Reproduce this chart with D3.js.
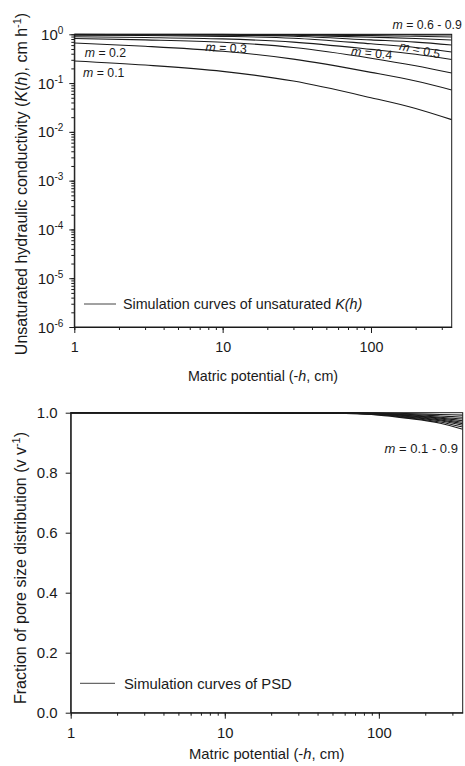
<!DOCTYPE html>
<html>
<head>
<meta charset="utf-8">
<script src="https://cdn.jsdelivr.net/npm/d3@7"></script>
<style>
  html, body { margin: 0; padding: 0; background: #fff; }
  svg { display: block; font-family: "Liberation Sans", Arial, sans-serif; }
</style>
</head>
<body>
<svg id="chart" width="465" height="766"></svg>
<script>
// ---------- data ----------
const mValues = ["0.1","0.2","0.3","0.4","0.5","0.6","0.7","0.8","0.9"];

// Top panel: unsaturated K(h), cm h-1 at matric potentials (-h, cm)
const kPotential = [1, 3, 10, 30, 100, 200, 350];
const kM01 = [0.284, 0.234, 0.174, 0.110, 0.0501, 0.0302, 0.0178];
const kM02 = [0.664, 0.570, 0.449, 0.310, 0.166, 0.110, 0.0723];
const kM03 = [0.820, 0.769, 0.686, 0.537, 0.324, 0.226, 0.161];
const kM04 = [0.893, 0.861, 0.804, 0.692, 0.490, 0.389, 0.305];
const kM05 = [0.955, 0.942, 0.908, 0.832, 0.638, 0.537, 0.434];
const kM06 = [0.982, 0.977, 0.964, 0.912, 0.767, 0.692, 0.604];
const kM07 = [0.991, 0.989, 0.982, 0.955, 0.871, 0.822, 0.764];
const kM08 = [0.995, 0.993, 0.991, 0.977, 0.938, 0.912, 0.881];
const kM09 = [0.998, 0.998, 0.995, 0.991, 0.982, 0.975, 0.966];
const kSeries = [kM01, kM02, kM03, kM04, kM05, kM06, kM07, kM08, kM09];

// Bottom panel: fraction of pore size distribution (v v-1)
const psdPotential = [1, 10, 50, 100, 150, 250, 350];
const psdM01 = [1, 1, 0.998, 0.992, 0.982, 0.965, 0.945];
const psdM02 = [1, 1, 0.998, 0.993, 0.984, 0.969, 0.952];
const psdM03 = [1, 1, 0.999, 0.994, 0.986, 0.973, 0.958];
const psdM04 = [1, 1, 0.999, 0.995, 0.988, 0.976, 0.963];
const psdM05 = [1, 1, 0.999, 0.996, 0.990, 0.979, 0.968];
const psdM06 = [1, 1, 0.999, 0.997, 0.991, 0.982, 0.973];
const psdM07 = [1, 1, 1.000, 0.997, 0.993, 0.985, 0.979];
const psdM08 = [1, 1, 1.000, 0.998, 0.995, 0.989, 0.985];
const psdM09 = [1, 1, 1.000, 0.999, 0.997, 0.994, 0.992];
const psdSeries = [psdM01, psdM02, psdM03, psdM04, psdM05, psdM06, psdM07, psdM08, psdM09];

// tick labels
const xTickValues = [1, 10, 100];
const xTickLabels = ["1", "10", "100"];
const kTickValues = [1, 0.1, 0.01, 0.001, 1e-4, 1e-5, 1e-6];
const kTickExponents = ["0", "-1", "-2", "-3", "-4", "-5", "-6"];
const psdTickValues = [0, 0.2, 0.4, 0.6, 0.8, 1.0];
const psdTickLabels = ["0.0", "0.2", "0.4", "0.6", "0.8", "1.0"];

// curve annotations (in data coordinates)
const kLabels = [
  { text: "0.1", h: 1.145, k: 0.133, rot: 0 },
  { text: "0.2", h: 1.176, k: 0.335, rot: 0 },
  { text: "0.3", h: 7.64, k: 0.455, rot: 3 },
  { text: "0.4", h: 72.9, k: 0.377, rot: 6 },
  { text: "0.5", h: 153.8, k: 0.48, rot: 12 },
  { text: "0.6 - 0.9", h: 139.6, k: 1.285, rot: 0 }
];
const psdLabel = { text: "0.1 - 0.9", h: 108.9, v: 0.866 };

// ---------- drawing ----------
const svg = d3.select("#chart");
const ink = "#1a1a1a";
const xDomain = [1, 350];

function minorLogTicks(lo, hi) {
  const t = [];
  for (let d = Math.floor(Math.log10(lo)); d <= Math.ceil(Math.log10(hi)); d++) {
    for (let i = 1; i < 10; i++) {
      const v = i * Math.pow(10, d);
      if (v >= lo - 1e-12 && v <= hi + 1e-9) t.push(v);
    }
  }
  return t;
}

function drawXAxis(g, x, yPos, fs) {
  const minor = minorLogTicks(xDomain[0], xDomain[1]);
  g.append("g").attr("transform", `translate(0,${yPos})`)
    .call(d3.axisBottom(x).tickValues(minor).tickSize(3).tickFormat(""))
    .call(a => a.select(".domain").remove())
    .call(a => a.selectAll("line").attr("stroke", ink));
  g.append("g").attr("transform", `translate(0,${yPos})`)
    .call(d3.axisBottom(x).tickValues(xTickValues).tickSize(6).tickSizeOuter(0)
      .tickFormat((d, i) => xTickLabels[i]))
    .call(a => a.select(".domain").attr("stroke", ink))
    .call(a => a.selectAll("line").attr("stroke", ink))
    .call(a => a.selectAll("text").attr("font-size", fs).attr("fill", ink)
      .attr("y", 14.5).attr("dy", "0.71em").attr("font-family", "Liberation Sans, Arial"));
}

// ===== Top panel =====
const P1 = { left: 74.3, right: 451.7, top: 34.3, bottom: 327 };
const fs1 = 14.3;
const x1 = d3.scaleLog().domain(xDomain).range([P1.left, P1.right]);
const y1 = d3.scaleLog().domain([1e-6, 1]).range([P1.bottom, P1.top]);
const g1 = svg.append("g");

g1.append("defs").append("clipPath").attr("id", "clip1")
  .append("rect").attr("x", P1.left).attr("y", P1.top - 1)
  .attr("width", P1.right - P1.left).attr("height", P1.bottom - P1.top + 1);

g1.append("rect").attr("x", P1.left).attr("y", P1.top)
  .attr("width", P1.right - P1.left).attr("height", P1.bottom - P1.top)
  .attr("fill", "none").attr("stroke", ink).attr("stroke-width", 1);

g1.append("g").attr("transform", `translate(${P1.left},0)`)
  .call(d3.axisLeft(y1).tickValues(minorLogTicks(1e-6, 1)).tickSize(3).tickFormat(""))
  .call(a => a.select(".domain").remove())
  .call(a => a.selectAll("line").attr("stroke", ink));
const yAx1 = g1.append("g").attr("transform", `translate(${P1.left},0)`)
  .call(d3.axisLeft(y1).tickValues(kTickValues).tickSize(5).tickSizeOuter(0).tickFormat(""))
  .call(a => a.select(".domain").attr("stroke", ink))
  .call(a => a.selectAll("line").attr("stroke", ink));
yAx1.selectAll(".tick").each(function(d, i) {
  const t = d3.select(this).append("text").attr("fill", ink).attr("font-size", 15)
    .attr("text-anchor", "end").attr("x", -11).attr("y", 5);
  t.append("tspan").text("10");
  t.append("tspan").attr("font-size", 10).attr("dy", -6).text(kTickExponents[i]);
});

drawXAxis(g1, x1, P1.bottom, fs1);

const line1 = d3.line().x(d => x1(d[0])).y(d => y1(d[1])).curve(d3.curveMonotoneX);
g1.append("g").attr("clip-path", "url(#clip1)")
  .selectAll("path").data(kSeries).join("path")
  .attr("d", s => line1(kPotential.map((h, i) => [h, s[i]])))
  .attr("fill", "none").attr("stroke", ink).attr("stroke-width", 1.1);

kLabels.forEach(l => {
  const px = x1(l.h), py = y1(l.k);
  const t = g1.append("text").attr("font-size", 12.3).attr("fill", ink)
    .attr("transform", `translate(${px},${py}) rotate(${l.rot})`);
  t.append("tspan").attr("font-style", "italic").text("m");
  t.append("tspan").text(" = " + l.text);
});

g1.append("line").attr("x1", 84).attr("x2", 116).attr("y1", 304).attr("y2", 304)
  .attr("stroke", "#444").attr("stroke-width", 1);
const lg1 = g1.append("text").attr("x", 123).attr("y", 309).attr("font-size", fs1).attr("fill", ink);
lg1.append("tspan").text("Simulation curves of unsaturated ");
lg1.append("tspan").attr("font-style", "italic").text("K(h)");

const xt1 = g1.append("text").attr("x", (P1.left + P1.right) / 2).attr("y", 381)
  .attr("text-anchor", "middle").attr("font-size", fs1).attr("fill", ink);
xt1.append("tspan").text("Matric potential (-");
xt1.append("tspan").attr("font-style", "italic").text("h");
xt1.append("tspan").text(", cm)");

const yt1 = g1.append("text").attr("transform", `translate(27,184) rotate(-90)`)
  .attr("text-anchor", "middle").attr("font-size", 16).attr("fill", ink);
yt1.append("tspan").text("Unsaturated hydraulic conductivity (");
yt1.append("tspan").attr("font-style", "italic").text("K");
yt1.append("tspan").text("(");
yt1.append("tspan").attr("font-style", "italic").text("h");
yt1.append("tspan").text("), cm h");
yt1.append("tspan").attr("font-size", 11).attr("dy", -6).text("-1");
yt1.append("tspan").attr("dy", 6).text(")");

// ===== Bottom panel =====
const P2 = { left: 70.7, right: 462.7, top: 412.7, bottom: 712.7 };
const fs2 = 14.8;
const x2 = d3.scaleLog().domain(xDomain).range([P2.left, P2.right]);
const y2 = d3.scaleLinear().domain([0, 1]).range([P2.bottom, P2.top]);
const g2 = svg.append("g");

g2.append("defs").append("clipPath").attr("id", "clip2")
  .append("rect").attr("x", P2.left).attr("y", P2.top - 1)
  .attr("width", P2.right - P2.left).attr("height", P2.bottom - P2.top + 1);

g2.append("rect").attr("x", P2.left).attr("y", P2.top)
  .attr("width", P2.right - P2.left).attr("height", P2.bottom - P2.top)
  .attr("fill", "none").attr("stroke", ink).attr("stroke-width", 1);

g2.append("g").attr("transform", `translate(${P2.left},0)`)
  .call(d3.axisLeft(y2).tickValues(psdTickValues).tickSize(5).tickSizeOuter(0)
    .tickFormat((d, i) => psdTickLabels[i]))
  .call(a => a.select(".domain").attr("stroke", ink))
  .call(a => a.selectAll("line").attr("stroke", ink))
  .call(a => a.selectAll("text").attr("font-size", 15).attr("fill", ink).attr("x", -13)
    .attr("font-family", "Liberation Sans, Arial"));

drawXAxis(g2, x2, P2.bottom, fs2);

const line2 = d3.line().x(d => x2(d[0])).y(d => y2(d[1])).curve(d3.curveMonotoneX);
g2.append("g").attr("clip-path", "url(#clip2)")
  .selectAll("path").data(psdSeries).join("path")
  .attr("d", s => line2(psdPotential.map((h, i) => [h, s[i]])))
  .attr("fill", "none").attr("stroke", ink).attr("stroke-width", 1.1);

const pl = g2.append("text").attr("font-size", 13).attr("fill", ink)
  .attr("x", x2(psdLabel.h)).attr("y", y2(psdLabel.v));
pl.append("tspan").attr("font-style", "italic").text("m");
pl.append("tspan").text(" = " + psdLabel.text);

g2.append("line").attr("x1", 80).attr("x2", 115).attr("y1", 683.3).attr("y2", 683.3)
  .attr("stroke", "#444").attr("stroke-width", 1);
g2.append("text").attr("x", 124).attr("y", 688.5).attr("font-size", fs2).attr("fill", ink)
  .text("Simulation curves of PSD");

const xt2 = g2.append("text").attr("x", (P2.left + P2.right) / 2).attr("y", 759)
  .attr("text-anchor", "middle").attr("font-size", fs2).attr("fill", ink);
xt2.append("tspan").text("Matric potential (-");
xt2.append("tspan").attr("font-style", "italic").text("h");
xt2.append("tspan").text(", cm)");

const yt2 = g2.append("text").attr("transform", `translate(26,568) rotate(-90)`)
  .attr("text-anchor", "middle").attr("font-size", 16).attr("fill", ink);
yt2.append("tspan").text("Fraction of pore size distribution (v v");
yt2.append("tspan").attr("font-size", 11).attr("dy", -6).text("-1");
yt2.append("tspan").attr("dy", 6).text(")");
</script>
</body>
</html>
